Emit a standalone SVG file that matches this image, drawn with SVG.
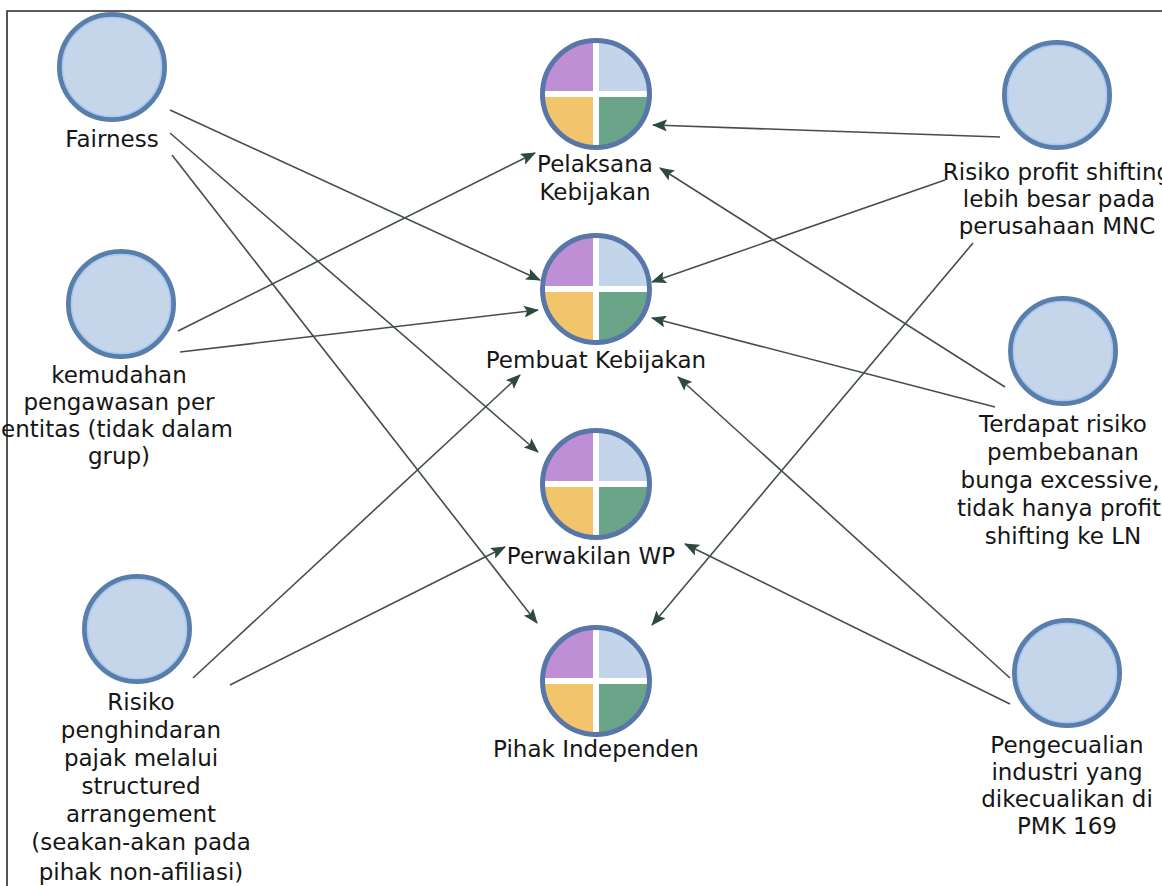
<svg xmlns="http://www.w3.org/2000/svg" width="1162" height="886" viewBox="0 0 1162 886">
<style>
.lbl{font-family:"DejaVu Sans","Liberation Sans",sans-serif;font-size:23px;fill:#161616;text-anchor:middle}
.ring{fill:#c5d6eb;stroke:#5a7eac;stroke-width:5}
.inner{fill:none;stroke:#a9c8ee;stroke-width:1.5}
.edge{fill:none;stroke:#434f4b;stroke-width:1.6}
</style>
<defs>
<marker id="ah" markerUnits="userSpaceOnUse" markerWidth="16" markerHeight="12" refX="14" refY="6" orient="auto">
<path d="M0,0 L15,6 L0,12 L3,6 z" fill="#2e4a40"/>
</marker>
<clipPath id="qc"><circle cx="0" cy="0" r="52"/></clipPath>
<g id="quad">
<g clip-path="url(#qc)">
<rect x="-54" y="-54" width="54" height="54" fill="#bf8fd6"/>
<rect x="0" y="-54" width="54" height="54" fill="#c2d5eb"/>
<rect x="-54" y="0" width="54" height="54" fill="#f2c46b"/>
<rect x="0" y="0" width="54" height="54" fill="#6aa58a"/>
</g>
<path d="M0,-53V53M-53,0H53" stroke="#ffffff" stroke-width="6"/>
<circle cx="0" cy="0" r="53.5" fill="none" stroke="#5876a8" stroke-width="5"/>
</g>
<g id="plain">
<circle cx="0" cy="0" r="52.5" class="ring"/>
<circle cx="0" cy="0" r="49.5" class="inner"/>
</g>
</defs>
<rect x="0" y="0" width="1162" height="886" fill="#ffffff"/>
<path d="M7,886 V11 H1162" fill="none" stroke="#2a2a2a" stroke-width="1.6"/>

<g id="connectors">
<line class="edge" x1="170" y1="110" x2="540" y2="280" marker-end="url(#ah)"/>
<line class="edge" x1="170" y1="133" x2="538" y2="452" marker-end="url(#ah)"/>
<line class="edge" x1="172" y1="155" x2="537" y2="623" marker-end="url(#ah)"/>
<line class="edge" x1="178" y1="331" x2="535" y2="153" marker-end="url(#ah)"/>
<line class="edge" x1="180" y1="352" x2="538" y2="310" marker-end="url(#ah)"/>
<line class="edge" x1="193" y1="678" x2="520" y2="375" marker-end="url(#ah)"/>
<line class="edge" x1="230" y1="685" x2="505" y2="547" marker-end="url(#ah)"/>
<line class="edge" x1="1000" y1="137" x2="653" y2="125" marker-end="url(#ah)"/>
<line class="edge" x1="945" y1="180" x2="652" y2="282" marker-end="url(#ah)"/>
<line class="edge" x1="973" y1="243" x2="652" y2="625" marker-end="url(#ah)"/>
<line class="edge" x1="1005" y1="387" x2="660" y2="168" marker-end="url(#ah)"/>
<line class="edge" x1="995" y1="407" x2="652" y2="318" marker-end="url(#ah)"/>
<line class="edge" x1="1010" y1="678" x2="678" y2="377" marker-end="url(#ah)"/>
<line class="edge" x1="1010" y1="704" x2="685" y2="544" marker-end="url(#ah)"/>
</g>

<g id="n-fairness">
<use href="#plain" x="112" y="67"/>
<text class="lbl" x="112" y="147">Fairness</text>
</g>
<g id="n-kemudahan">
<use href="#plain" x="121" y="304"/>
<text class="lbl" x="119" y="383">kemudahan</text>
<text class="lbl" x="119" y="410">pengawasan per</text>
<text class="lbl" x="117" y="437">entitas (tidak dalam</text>
<text class="lbl" x="119" y="464">grup)</text>
</g>
<g id="n-risiko-penghindaran">
<use href="#plain" x="137" y="629"/>
<text class="lbl" x="141" y="710">Risiko</text>
<text class="lbl" x="141" y="738">penghindaran</text>
<text class="lbl" x="141" y="766">pajak melalui</text>
<text class="lbl" x="141" y="794">structured</text>
<text class="lbl" x="141" y="822">arrangement</text>
<text class="lbl" x="141" y="850">(seakan-akan pada</text>
<text class="lbl" x="141" y="880">pihak non-afiliasi)</text>
</g>
<g id="n-pelaksana">
<use href="#quad" x="596" y="94"/>
<text class="lbl" x="595" y="172">Pelaksana</text>
<text class="lbl" x="595" y="200">Kebijakan</text>
</g>
<g id="n-pembuat">
<use href="#quad" x="596" y="289"/>
<text class="lbl" x="596" y="368">Pembuat Kebijakan</text>
</g>
<g id="n-perwakilan">
<use href="#quad" x="596" y="484"/>
<text class="lbl" x="591" y="564">Perwakilan WP</text>
</g>
<g id="n-pihak">
<use href="#quad" x="596" y="681"/>
<text class="lbl" x="596" y="757">Pihak Independen</text>
</g>
<g id="n-risiko-profit">
<use href="#plain" x="1057" y="95"/>
<text class="lbl" x="1057" y="180">Risiko profit shifting</text>
<text class="lbl" x="1059" y="207">lebih besar pada</text>
<text class="lbl" x="1057" y="234">perusahaan MNC</text>
</g>
<g id="n-terdapat">
<use href="#plain" x="1063" y="351"/>
<text class="lbl" x="1063" y="432">Terdapat risiko</text>
<text class="lbl" x="1063" y="460">pembebanan</text>
<text class="lbl" x="1060" y="488">bunga excessive,</text>
<text class="lbl" x="1059" y="516">tidak hanya profit</text>
<text class="lbl" x="1063" y="544">shifting ke LN</text>
</g>
<g id="n-pengecualian">
<use href="#plain" x="1067" y="673"/>
<text class="lbl" x="1067" y="753">Pengecualian</text>
<text class="lbl" x="1067" y="780">industri yang</text>
<text class="lbl" x="1067" y="807">dikecualikan di</text>
<text class="lbl" x="1067" y="834">PMK 169</text>
</g>
</svg>
